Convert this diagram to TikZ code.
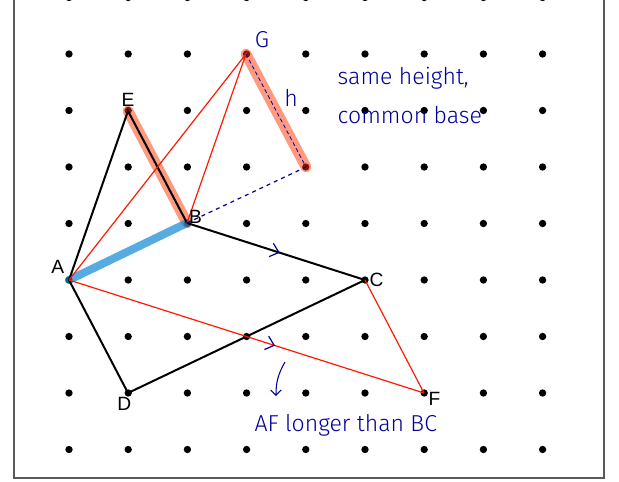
\documentclass[tikz,border=0pt]{standalone}
\usepackage{fontspec}
\setmainfont{Liberation Sans}
\newfontfamily\handfont{Fira Sans Light}
\usetikzlibrary{positioning, arrows.meta, decorations.markings}

\begin{document}
\begin{tikzpicture}[
        x=0.75pt,
        y=-0.75pt,
        every node/.style={font=\Large},
        griddot/.style={circle, fill=black, inner sep=0pt, minimum size=5.5pt},
        blackside/.style={draw=black, line width=1.5pt},
        redside/.style={draw=red!80!orange, line width=0.9pt},
        hilite/.style={draw=red!60!orange, opacity=0.5, line width=8pt, line cap=round},
        bluehilite/.style={draw=cyan!70!blue, opacity=0.7, line width=6pt, line cap=round},
        hand/.style={text=blue!60!black, font=\handfont\LARGE},
        tickmark/.style={postaction={decorate}, decoration={markings,
            mark=at position #1 with {\draw[-, line width=0.9pt, blue!60!black] (-5,-7) -- (3,0) -- (-5,7);}}}
    ]
    \useasboundingbox (0,0) rectangle (619,482);
    \draw[gray!70!black, line width=1pt] (14,0) -- (14,478) -- (604,478) -- (604,0);

    % dot grid
    \foreach \i in {0,...,8}
        \foreach \j in {-1,...,7}
            \node[griddot] at ({69+59.2*\i},{54+56.5*\j}) {};

    \coordinate (A) at (69,280);
    \coordinate (E) at (128,111);
    \coordinate (B) at (187,223);
    \coordinate (C) at (365,280);
    \coordinate (D) at (128,393);
    \coordinate (F) at (424,393);
    \coordinate (G) at (246,54);
    \coordinate (H) at (306,167);

    \draw[hilite] (E) -- (B);
    \draw[hilite] (G) -- (H);
    \draw[bluehilite] (A) -- (B);

    \draw[blackside] (A) -- (E) -- (B);
    \draw[blackside, tickmark=0.5] (B) -- (C);
    \draw[blackside] (C) -- (D) -- (A);

    \draw[redside] (A) -- (G) -- (B);
    \draw[redside, tickmark=0.57] (A) -- (F);
    \draw[redside] (F) -- (C);

    \draw[blue!60!black, dashed, line width=0.9pt] (B) -- (H);
    \draw[blue!60!black, densely dashed, line width=0.6pt] (G) -- (H);

    \node[left=0pt of A, yshift=10pt] (lA) {A};
    \node[above=0pt of E] (lE) {E};
    \node[above right=-4pt and -2pt of B] (lB) {B};
    \node[right=0pt of C] (lC) {C};
    \node[below left=0pt and -6pt of D] (lD) {D};
    \node[below right=-4pt and 0pt of F] (lF) {F};

    \node[hand] (lG) at (262,40) {G};
    \node[hand] (lh) at (291,98) {h};
    \node[hand, anchor=west] (note1) at (333,78) {same height,};
    \node[hand, below=6pt of note1.south west, anchor=north west] (note2) {common base};
    \node[hand, anchor=west] (note3) at (250,425) {AF longer than BC};

    \coordinate (arrtop) at (285,362);
    \coordinate (arrend) at (276,396);
    \draw[blue!60!black, line width=0.8pt, -{Straight Barb[length=4pt]}] (arrtop) to[bend right=15] (arrend);
\end{tikzpicture}
\end{document}
